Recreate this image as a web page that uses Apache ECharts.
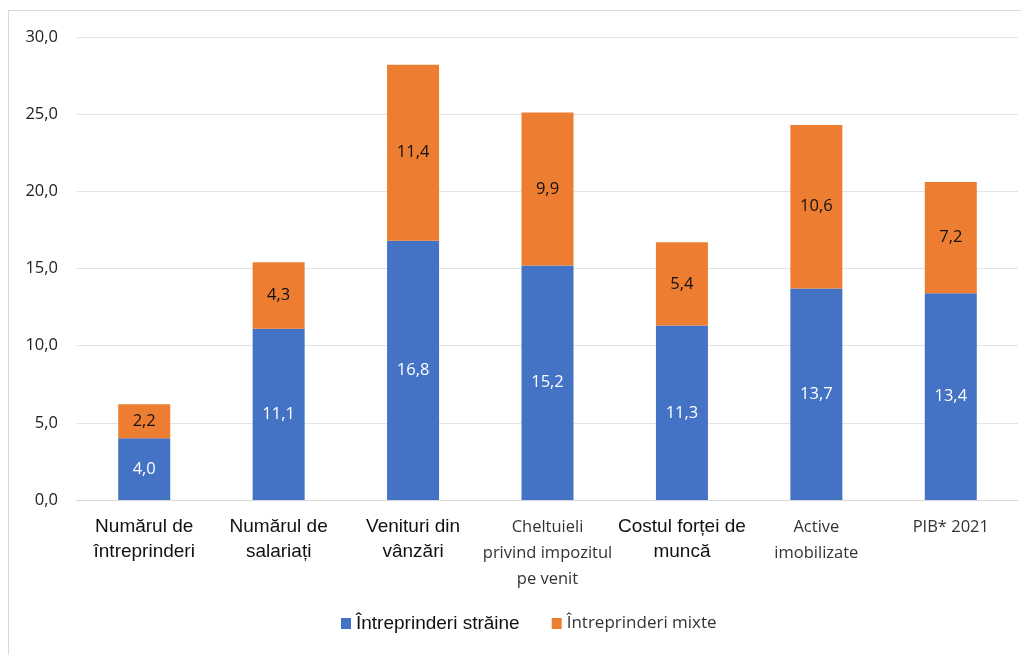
<!DOCTYPE html>
<html lang="ro">
<head>
    <meta charset="UTF-8">
    <title>Întreprinderi străine și mixte</title>
    <script src="https://cdn.jsdelivr.net/npm/echarts@6/dist/echarts.min.js"></script>
    <style>
        html, body { margin: 0; padding: 0; background: #fff; }
    </style>
</head>
<body>
 <div id="myChart" style="width: 1034px;height: 655px;"></div>
 <script>
     // categorii (cu stilul textului din original: a = Arial, c = Calibri)
     var categories = [
         'Numărul de\nîntreprinderi',
         'Numărul de\nsalariați',
         'Venituri din\nvânzări',
         'Cheltuieli\nprivind impozitul\npe venit',
         'Costul forței de\nmuncă',
         'Active\nimobilizate',
         'PIB* 2021'
     ];
     var labelStyle = ['a', 'a', 'a', 'c', 'a', 'c', 'c'];
     var straine = [4.0, 11.1, 16.8, 15.2, 11.3, 13.7, 13.4];
     var mixte = [2.2, 4.3, 11.4, 9.9, 5.4, 10.6, 7.2];
     var seriesNames = ['Întreprinderi străine', 'Întreprinderi mixte'];

     function virgula(v) {
         return v.toFixed(1).replace('.', ',');
     }

     var option = {
         animation: false,
         backgroundColor: '#fff',
         graphic: [
             { type: 'line', shape: { x1: 8.5, y1: 10, x2: 8.5, y2: 655 }, style: { stroke: '#d9d9d9', lineWidth: 1 } },
             { type: 'line', shape: { x1: 8, y1: 10.5, x2: 1021, y2: 10.5 }, style: { stroke: '#d9d9d9', lineWidth: 1 } }
         ],
         grid: { left: 77, right: 16, top: 37, bottom: 155 },
         legend: {
             bottom: 17,
             left: 336,
             itemWidth: 10,
             itemHeight: 11,
             itemGap: 32,
             icon: 'rect',
             data: [
                 { name: seriesNames[0], textStyle: { fontFamily: 'Liberation Sans', fontSize: 19, color: '#111' } },
                 { name: seriesNames[1], textStyle: { fontFamily: 'Open Sans', fontSize: 17, color: '#333' } }
             ]
         },
         xAxis: {
             type: 'category',
             data: categories,
             axisTick: { show: false },
             axisLine: { lineStyle: { color: '#d9d9d9' } },
             axisLabel: {
                 interval: 0,
                 margin: 14,
                 formatter: function (v, i) {
                     return v.split('\n').map(function (s) {
                         return '{' + labelStyle[i] + '|' + s + '}';
                     }).join('\n');
                 },
                 rich: {
                     a: { fontFamily: 'Liberation Sans', fontSize: 19, color: '#111', lineHeight: 25 },
                     c: { fontFamily: 'Open Sans', fontSize: 16.5, color: '#333', lineHeight: 26 }
                 }
             }
         },
         yAxis: {
             type: 'value',
             min: 0,
             max: 30,
             interval: 5,
             axisLabel: {
                 fontFamily: 'Open Sans',
                 fontSize: 16.5,
                 color: '#222',
                 margin: 19,
                 formatter: function (v) { return virgula(v); }
             },
             splitLine: { lineStyle: { color: '#e3e3e3' } }
         },
         series: [
             {
                 name: seriesNames[0],
                 type: 'bar',
                 stack: 'total',
                 barWidth: 52,
                 data: straine,
                 itemStyle: { color: '#4472c4' },
                 label: {
                     show: true,
                     position: 'inside',
                     color: '#fff',
                     fontFamily: 'Open Sans',
                     fontSize: 16.5,
                     formatter: function (p) { return virgula(p.value); }
                 }
             },
             {
                 name: seriesNames[1],
                 type: 'bar',
                 stack: 'total',
                 barWidth: 52,
                 data: mixte,
                 itemStyle: { color: '#ed7d31' },
                 label: {
                     show: true,
                     position: 'inside',
                     color: '#111',
                     fontFamily: 'Open Sans',
                     fontSize: 16.5,
                     formatter: function (p) { return virgula(p.value); }
                 }
             }
         ]
     };
     var myChart = echarts.init(document.getElementById('myChart'));
     myChart.setOption(option);
 </script>
</body>
</html>
